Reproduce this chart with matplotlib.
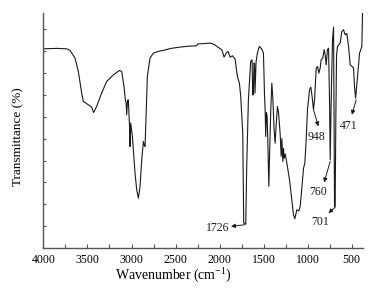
import matplotlib
matplotlib.use("Agg")
import matplotlib.pyplot as plt
from matplotlib.ticker import MultipleLocator

plt.rcParams['font.family'] = ['Liberation Serif', 'DejaVu Serif']
plt.rcParams['mathtext.fontset'] = 'custom'
plt.rcParams['mathtext.rm'] = 'Liberation Serif'

wavenumber = [4000, 3850, 3736, 3699, 3642, 3604, 3566, 3547, 3490, 3453, 3430, 3396, 3339, 3282,
              3206, 3138, 3112, 3085, 3070, 3060, 3055, 3045, 3036, 3022, 3017, 3009, 2990, 2960,
              2941, 2922, 2903, 2884, 2865, 2855, 2846, 2835, 2820, 2790, 2752, 2700, 2638, 2550,
              2449, 2350, 2260, 2250, 2180, 2108, 2060, 2032, 1975, 1949, 1926, 1904, 1881, 1854,
              1824, 1798, 1775, 1760, 1737, 1726, 1703, 1692, 1673, 1647, 1631, 1624, 1617, 1609,
              1603, 1598, 1590, 1586, 1571, 1548, 1521, 1502, 1490, 1483, 1476, 1468, 1460, 1453,
              1441, 1434, 1419, 1407, 1396, 1381, 1369, 1358, 1343, 1331, 1312, 1301, 1293, 1282,
              1274, 1267, 1255, 1236, 1206, 1180, 1161, 1146, 1123, 1100, 1085, 1066, 1047, 1032,
              1017, 1002, 979, 964, 949, 934, 922, 903, 888, 873, 858, 847, 828, 813, 801, 790,
              775, 763, 752, 744, 733, 718, 706, 700, 695, 688, 680, 672, 661, 631, 612, 593, 574,
              555, 536, 517, 498, 479, 468, 456, 441, 411, 392, 385, 377]
transmittance = [91.0, 91.2, 91.0, 90.3, 86.8, 80.7, 70.8, 67.0, 65.4, 64.4, 61.9, 64.7, 70.8, 76.1,
                 79.1, 81.1, 80.7, 73.8, 67.7, 66.0, 60.9, 67.5, 67.7, 55.0, 46.4, 57.1, 51.0, 34.2,
                 26.6, 22.8, 28.2, 40.3, 48.7, 47.0, 46.4, 60.0, 78.4, 86.8, 89.0, 89.8, 90.3, 91.2,
                 91.8, 92.2, 92.4, 93.2, 93.4, 93.6, 93.0, 92.1, 90.6, 87.2, 89.0, 89.8, 87.2, 87.8,
                 86.3, 78.4, 75.3, 69.3, 52.5, 11.4, 11.0, 37.3, 67.7, 85.2, 86.0, 70.0, 70.0, 84.5,
                 84.0, 70.8, 80.0, 85.0, 89.0, 92.1, 90.9, 89.0, 70.0, 63.2, 51.0, 62.0, 60.0, 50.0,
                 28.2, 40.0, 63.0, 75.3, 69.0, 54.0, 47.9, 56.0, 64.7, 62.0, 52.0, 41.9, 50.0, 39.5,
                 45.5, 41.0, 43.0, 38.8, 31.2, 22.1, 15.2, 13.4, 17.5, 17.0, 19.0, 27.4, 36.5, 38.8,
                 49.5, 63.2, 72.3, 73.5, 69.0, 63.2, 67.7, 82.2, 82.9, 79.9, 82.2, 86.0, 86.8, 90.6,
                 88.3, 83.7, 90.6, 91.3, 68.0, 40.3, 67.7, 95.1, 100.9, 60.0, 19.0, 19.0, 60.0, 88.0,
                 92.1, 93.6, 98.9, 99.7, 97.4, 98.0, 92.1, 83.7, 83.0, 82.3, 73.8, 68.5, 75.0, 89.0,
                 91.3, 92.0, 107.3]

peak_labels = ["1726", "948", "760", "701", "471"]
arrow_tail = [(1710, 10.7), (934, 63.2), (744, 39.6), (687, 18.7), (449, 67.7)]
arrow_head = [(1870, 9.9), (878, 55.6), (813, 30.0), (764, 16.0), (498, 60.9)]
label_pos = [(2025, 9.3), (898, 50.7), (884, 25.4), (858, 11.7), (536, 55.6)]

xticks = [4000, 3500, 3000, 2500, 2000, 1500, 1000, 500]

fig = plt.figure(figsize=(3.81, 2.95), dpi=100)
ax = fig.add_axes([0.114, 0.159, 0.838, 0.798])
ax.plot(wavenumber, transmittance, color='#1a1a1a', lw=0.8)

for lab, tail, head, pos in zip(peak_labels, arrow_tail, arrow_head, label_pos):
    ax.annotate('', xy=head, xytext=tail,
                arrowprops=dict(arrowstyle='-|>', color='#1a1a1a', lw=0.7,
                                mutation_scale=6, shrinkA=0, shrinkB=0))
    ax.text(pos[0], pos[1], lab, ha='center', va='center', fontsize=8.5, color='#1a1a1a')

ax.set_xlim(4000, 375)
ax.set_ylim(0, 107.5)
ax.set_xticks(xticks)
ax.set_xticklabels([str(t) for t in xticks])
ax.xaxis.set_minor_locator(MultipleLocator(250))
ax.set_yticks(range(10, 101, 10))
ax.set_yticklabels([])
for s in ['top', 'right']:
    ax.spines[s].set_visible(False)
for s in ['left', 'bottom']:
    ax.spines[s].set_color('#555555')
    ax.spines[s].set_linewidth(1.0)
ax.tick_params(axis='x', which='both', direction='in', length=3, width=0.8, color='#555555',
               labelsize=8.5, pad=4)
ax.tick_params(axis='y', which='both', direction='in', length=2, width=0.8, color='#555555')

fig.text(0.454, 0.068, 'Wavenumber (cm$^{\\mathregular{-1}}$)', ha='center', va='center', fontsize=10)
fig.text(0.048, 0.537, 'Transmittance (%)', ha='center', va='center', rotation=90, fontsize=9.5)

fig.savefig('out.png', dpi=100)
